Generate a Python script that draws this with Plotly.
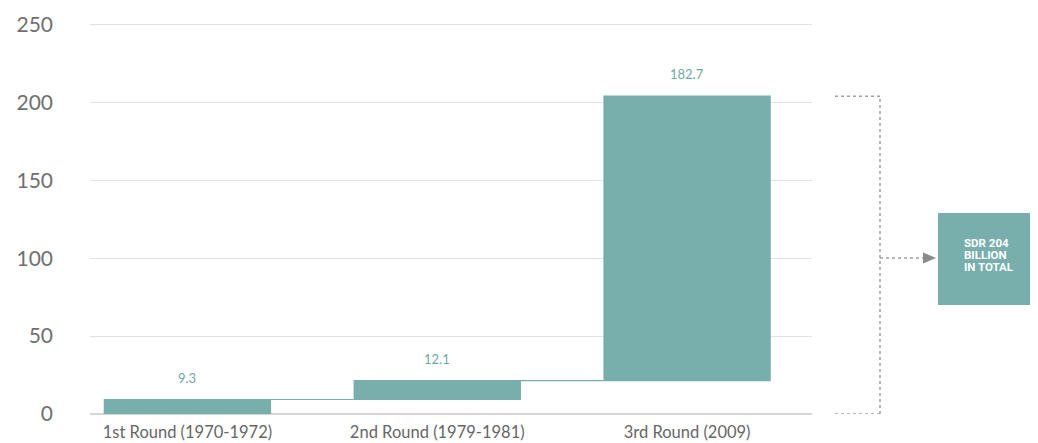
import plotly.graph_objects as go

categories = ["1st Round (1970-1972)", "2nd Round (1979-1981)", "3rd Round (2009)"]
values = [9.3, 12.1, 182.7]
value_labels = ["9.3", "12.1", "182.7"]
y_ticks = [0, 50, 100, 150, 200, 250]
total_lines = ["SDR 204", "BILLION", "IN TOTAL"]

teal = "#78aeac"
label_teal = "#6ea9a6"
grid = "#e2e2e2"

fig = go.Figure()
fig.add_trace(go.Waterfall(
    x=categories,
    y=values,
    measure=["relative"] * len(values),
    increasing=dict(marker=dict(color=teal, line=dict(width=0))),
    connector=dict(line=dict(color=teal, width=1.2)),
    width=0.67,
    textposition="none",
    hoverinfo="skip",
))

# value labels above bars
cum = 0
for c, v, t in zip(categories, values, value_labels):
    cum += v
    fig.add_annotation(x=c, y=cum, text=t, showarrow=False, yanchor="bottom",
                       yshift=12, font=dict(family="Lato", size=13, color=label_teal))

total = sum(values)

# paper-coordinate helpers: plot spans x 90..812 px, y 414..20 px
def px(xp):
    return (xp - 90) / 722.0

def py(yp):
    return (414 - yp) / 394.0

# bracket on the right
dot = dict(color="#a0a0a0", width=1.5, dash="dot")
fig.add_shape(type="line", xref="paper", yref="y", x0=px(835), x1=px(880), y0=total, y1=total, line=dot)
fig.add_shape(type="line", xref="paper", yref="y", x0=px(835), x1=px(880), y0=0, y1=0, line=dot)
fig.add_shape(type="line", xref="paper", yref="y", x0=px(880), x1=px(880), y0=0, y1=total, line=dot)
fig.add_shape(type="line", xref="paper", yref="paper", x0=px(880), x1=px(924), y0=py(258), y1=py(258), line=dot)
fig.add_shape(type="path", xref="paper", yref="paper",
              path=f"M {px(923)} {py(252.5)} L {px(936)} {py(258)} L {px(923)} {py(263.5)} Z",
              fillcolor="#8a8a8a", line=dict(width=0))
fig.add_shape(type="rect", xref="paper", yref="paper", x0=px(938), x1=px(1030), y0=py(305), y1=py(213),
              fillcolor=teal, line=dict(width=0))
for i, line in enumerate(total_lines):
    fig.add_annotation(xref="paper", yref="paper", x=px(962), y=py(243 + i * 12),
                       text="<b>" + line + "</b>", showarrow=False, xanchor="left", yanchor="middle",
                       font=dict(family="Roboto", size=11.5, color="white"))

fig.update_layout(
    width=1038, height=443,
    margin=dict(l=90, r=226, t=20, b=29),
    paper_bgcolor="white", plot_bgcolor="white",
    showlegend=False,
    xaxis=dict(type="category", range=[-0.39, 2.5], showgrid=False, showline=False,
               ticks="", ticklabelstandoff=6, automargin=False,
               tickfont=dict(family="Lato", size=16.5, color="#666")),
    yaxis=dict(range=[0, 253], tickvals=y_ticks, showgrid=True, gridcolor=grid, gridwidth=1,
               zeroline=True, zerolinecolor="#d5d5d5", zerolinewidth=1.5, showline=False,
               ticks="", ticklabelstandoff=36, automargin=False,
               tickfont=dict(family="Lato", size=21, color="#707070")),
)

fig.write_html("out.html")
